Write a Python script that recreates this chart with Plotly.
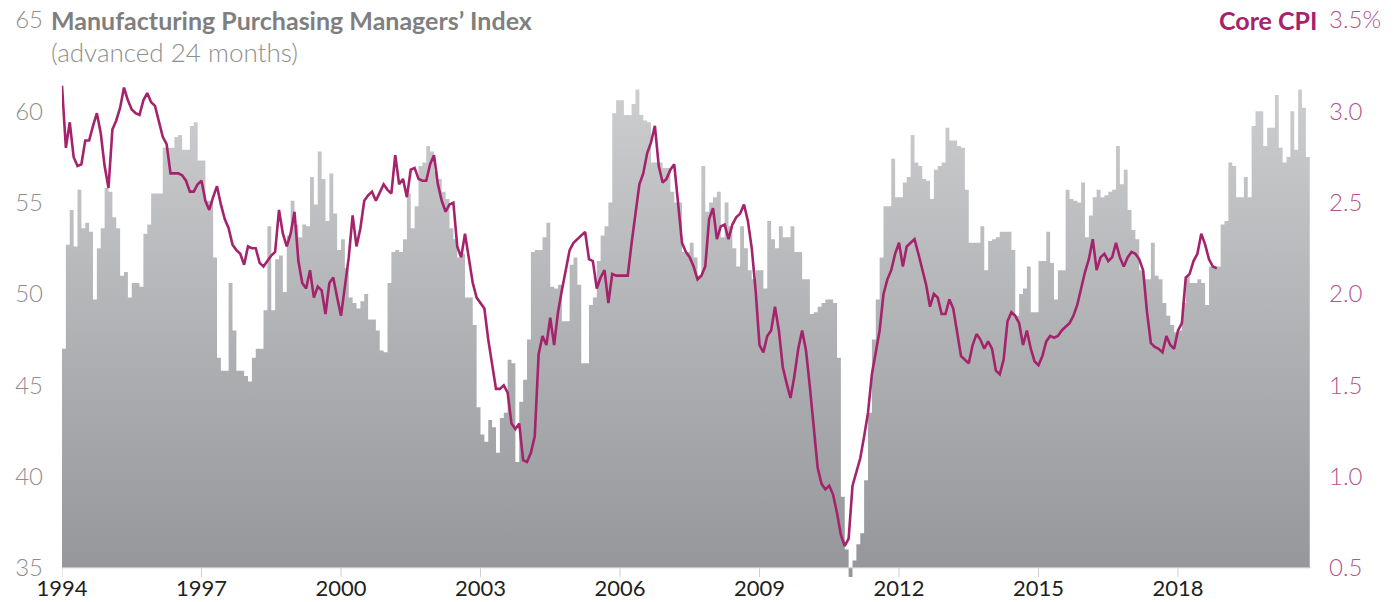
import numpy as np
import plotly.graph_objects as go

# ISM Manufacturing PMI, monthly, shown advanced 24 months (first bar = Jan 1994 on the axis)
pmi = [
    47.0, 52.7, 54.6, 52.6, 55.7, 53.6, 53.9, 53.4, 49.7, 52.5, 53.6, 55.8,
    55.6, 54.2, 53.6, 51.0, 51.2, 49.8, 50.6, 50.6, 50.4, 53.3, 53.8, 55.5,
    55.5, 55.5, 58.0, 58.0, 58.0, 58.6, 58.7, 57.9, 57.9, 59.2, 59.4, 57.3,
    57.3, 55.1, 55.1, 52.0, 46.5, 45.8, 45.8, 50.6, 48.0, 45.8, 45.8, 45.5,
    45.2, 46.5, 47.0, 47.0, 49.1, 53.7, 49.1, 51.9, 52.1, 50.1, 53.2, 55.1,
    53.8, 53.1, 53.8, 53.7, 56.4, 54.9, 57.8, 56.3, 54.0, 56.6, 54.4, 52.4,
    53.0, 51.4, 49.8, 49.5, 49.2, 49.6, 50.0, 48.6, 48.6, 48.0, 46.9, 46.8,
    50.6, 52.3, 52.4, 52.3, 53.0, 55.5, 53.6, 54.8, 57.0, 57.2, 58.1, 57.8,
    56.7, 56.3, 55.6, 55.2, 53.6, 53.0, 52.0, 52.2, 49.8, 49.8, 48.3, 43.8,
    42.3, 41.9, 43.1, 42.7, 41.3, 43.2, 43.5, 46.4, 46.2, 40.8, 44.1, 45.3,
    47.5, 52.3, 52.4, 52.4, 53.1, 53.9, 50.4, 50.3, 50.5, 48.5, 48.5, 51.6,
    52.0, 50.5, 46.2, 46.2, 49.4, 49.8, 51.8, 53.2, 53.7, 55.0, 59.9, 60.6,
    60.6, 59.8, 59.8, 60.4, 61.2, 59.8, 59.5, 59.4, 57.2, 57.2, 57.2, 56.9,
    56.9, 55.6, 55.0, 55.0, 52.3, 52.3, 52.8, 52.0, 51.0, 57.0, 54.5, 55.0,
    55.3, 55.6, 53.1, 55.0, 53.7, 52.5, 51.5, 53.7, 52.5, 51.3, 50.8, 51.3,
    51.3, 50.3, 54.0, 53.0, 52.5, 53.7, 53.1, 53.1, 53.7, 52.3, 52.3, 50.8,
    50.8, 48.9, 49.0, 49.3, 49.5, 49.7, 49.7, 49.5, 46.5, 38.9, 36.0, 33.0,
    35.4, 36.3, 36.9, 39.8, 43.5, 47.5, 49.7, 52.0, 54.8, 54.8, 57.4, 55.3,
    55.3, 56.1, 56.4, 58.7, 57.2, 57.0, 56.3, 56.2, 55.2, 56.8, 57.0, 57.2,
    59.1, 58.4, 58.4, 58.1, 58.0, 55.7, 52.8, 52.8, 52.8, 53.7, 51.3, 52.9,
    53.0, 53.1, 53.4, 53.4, 53.4, 52.4, 48.8, 50.0, 50.3, 51.5, 49.0, 49.0,
    51.8, 51.8, 53.4, 51.7, 49.7, 51.3, 51.3, 55.7, 55.2, 55.1, 55.0, 56.1,
    53.1, 54.3, 55.3, 55.7, 55.3, 55.4, 55.6, 55.7, 58.1, 56.0, 56.8, 54.6,
    53.5, 53.0, 51.3, 50.8, 50.8, 52.8, 51.0, 50.8, 49.5, 48.8, 48.3, 47.9,
    48.0, 49.5, 51.0, 50.6, 50.6, 50.8, 50.6, 49.4, 51.5, 51.5, 51.5, 53.8,
    54.0, 57.2, 57.0, 55.3, 55.3, 56.4, 55.3, 59.2, 60.0, 60.0, 58.1, 59.1,
    59.1, 60.9, 58.0, 57.2, 57.5, 60.0, 57.9, 61.2, 60.2, 57.5,
]

# Core CPI, year-over-year %, monthly from Jan 1994
core_cpi = [
    3.14, 2.80, 2.94, 2.75, 2.70, 2.71, 2.84, 2.84, 2.92, 2.99, 2.88, 2.70,
    2.58, 2.90, 2.95, 3.02, 3.13, 3.06, 3.01, 2.99, 2.98, 3.06, 3.10, 3.05,
    3.03, 2.95, 2.86, 2.82, 2.66, 2.66, 2.66, 2.65, 2.62, 2.56, 2.56, 2.60,
    2.62, 2.51, 2.46, 2.53, 2.59, 2.49, 2.41, 2.36, 2.27, 2.24, 2.22, 2.16,
    2.26, 2.25, 2.25, 2.17, 2.15, 2.18, 2.21, 2.23, 2.46, 2.33, 2.26, 2.33,
    2.45, 2.18, 2.06, 2.03, 2.13, 1.98, 2.04, 2.02, 1.89, 2.06, 2.09, 1.98,
    1.88, 2.04, 2.20, 2.43, 2.26, 2.36, 2.51, 2.54, 2.56, 2.51, 2.56, 2.60,
    2.57, 2.55, 2.76, 2.60, 2.63, 2.53, 2.68, 2.69, 2.63, 2.62, 2.62, 2.71,
    2.76, 2.60, 2.51, 2.45, 2.49, 2.50, 2.26, 2.20, 2.33, 2.20, 2.06, 1.98,
    1.95, 1.92, 1.75, 1.62, 1.48, 1.48, 1.50, 1.46, 1.29, 1.26, 1.29, 1.09,
    1.08, 1.13, 1.22, 1.67, 1.77, 1.72, 1.87, 1.72, 1.90, 2.02, 2.13, 2.24,
    2.28, 2.30, 2.32, 2.34, 2.19, 2.18, 2.03, 2.09, 2.13, 1.95, 2.11, 2.10,
    2.10, 2.10, 2.10, 2.28, 2.43, 2.60, 2.66, 2.77, 2.83, 2.92, 2.70, 2.61,
    2.63, 2.68, 2.71, 2.48, 2.28, 2.23, 2.20, 2.15, 2.08, 2.10, 2.15, 2.41,
    2.47, 2.30, 2.37, 2.38, 2.30, 2.38, 2.42, 2.44, 2.49, 2.40, 2.25, 2.02,
    1.72, 1.68, 1.77, 1.80, 1.93, 1.80, 1.60, 1.51, 1.43, 1.55, 1.70, 1.80,
    1.69, 1.49, 1.27, 1.05, 0.96, 0.93, 0.95, 0.90, 0.80, 0.68, 0.62, 0.66,
    0.95, 1.02, 1.10, 1.22, 1.35, 1.56, 1.68, 1.80, 2.00, 2.08, 2.13, 2.22,
    2.28, 2.15, 2.26, 2.28, 2.30, 2.22, 2.13, 2.05, 1.93, 2.00, 1.98, 1.89,
    1.89, 1.97, 1.92, 1.78, 1.66, 1.64, 1.62, 1.72, 1.78, 1.75, 1.70, 1.74,
    1.70, 1.58, 1.56, 1.64, 1.85, 1.90, 1.88, 1.84, 1.72, 1.80, 1.70, 1.63,
    1.61, 1.66, 1.74, 1.77, 1.76, 1.77, 1.80, 1.82, 1.84, 1.88, 1.94, 2.03,
    2.12, 2.19, 2.30, 2.13, 2.20, 2.22, 2.18, 2.20, 2.28, 2.20, 2.15, 2.20,
    2.23, 2.22, 2.19, 2.13, 1.90, 1.73, 1.71, 1.70, 1.68, 1.77, 1.72, 1.70,
    1.80, 1.84, 2.09, 2.11, 2.18, 2.22, 2.33, 2.27, 2.19, 2.15, 2.14,
]

start_year = 1994
x_tick_years = [1994, 1997, 2000, 2003, 2006, 2009, 2012, 2015, 2018]
pmi_ticks = [35, 40, 45, 50, 55, 60, 65]
cpi_ticks = [0.5, 1.0, 1.5, 2.0, 2.5, 3.0, 3.5]
cpi_tick_text = ["0.5", "1.0", "1.5", "2.0", "2.5", "3.0", "3.5%"]

PMI_BASE = 35
X_MAX = 2020.86
Y_MIN = 34.5

n = len(pmi)
x_bars = start_year + np.arange(n + 1) / 12.0
y_bars = pmi + [pmi[-1]]
x_cpi = start_year + np.arange(len(core_cpi)) / 12.0

fig = go.Figure()
fig.add_trace(go.Scatter(x=x_bars, y=[PMI_BASE] * (n + 1), mode="lines",
                         line=dict(width=0, color="rgba(0,0,0,0)"),
                         hoverinfo="skip", showlegend=False))
fig.add_trace(go.Scatter(x=x_bars, y=y_bars, mode="lines",
                         line=dict(width=0, shape="hv", color="rgba(0,0,0,0)"),
                         fill="tonexty",
                         fillgradient=dict(type="vertical",
                                           colorscale=[[0, "#96979a"], [1, "#d0d1d3"]],
                                           start=PMI_BASE, stop=63),
                         name="Manufacturing PMI", showlegend=False))
fig.add_trace(go.Scatter(x=x_cpi, y=core_cpi, mode="lines", yaxis="y2",
                         line=dict(color="#a5236c", width=2.6),
                         name="Core CPI", showlegend=False))

shapes = [dict(type="line", xref="x", yref="y", x0=start_year, x1=X_MAX, y0=PMI_BASE, y1=PMI_BASE,
               line=dict(color="#cfcfcf", width=1), layer="above")]
for yr in x_tick_years:
    shapes.append(dict(type="line", xref="x", yref="y", x0=yr, x1=yr, y0=PMI_BASE, y1=Y_MIN,
                       line=dict(color="#cfcfcf", width=1), layer="above"))

FONT = "Lato"
# the page body adds an 8px offset, so the figure is 8px smaller than the window
fig.update_layout(
    width=1390, height=594,
    margin=dict(l=54, r=87, t=12, b=25),
    paper_bgcolor="white", plot_bgcolor="white",
    showlegend=False,
    font=dict(family=FONT),
    shapes=shapes,
    xaxis=dict(range=[start_year, X_MAX], tickvals=x_tick_years,
               ticktext=[str(y) for y in x_tick_years], automargin=False,
               showgrid=False, zeroline=False, showline=False, ticks="",
               tickfont=dict(family=FONT, size=22, color="#231f20"),
               ticklabelstandoff=-4, ticklabeloverflow="allow"),
    yaxis=dict(range=[Y_MIN, 65], tickvals=pmi_ticks, showgrid=False, zeroline=False,
               showline=False, ticks="", ticklabelstandoff=18, automargin=False,
               ticklabeloverflow="allow",
               tickfont=dict(family=FONT, size=24, color="#8e8e8e", weight=300)),
    yaxis2=dict(range=[0.5 + (Y_MIN - PMI_BASE) / 10.0, 3.5], overlaying="y", side="right",
                tickvals=cpi_ticks, ticktext=cpi_tick_text, showgrid=False, zeroline=False,
                showline=False, ticks="", ticklabelstandoff=17, automargin=False,
                ticklabeloverflow="allow",
                tickfont=dict(family=FONT, size=24, color="#b5538a", weight=300)),
    annotations=[
        dict(text="<b>Manufacturing Purchasing Managers’ Index</b>", xref="paper", yref="paper",
             x=-0.0104, y=1.0, xanchor="left", yanchor="middle", showarrow=False,
             font=dict(family=FONT, size=25, color="#7f7f7f")),
        dict(text="(advanced 24 months)", xref="paper", yref="paper",
             x=-0.0104, y=0.9425, xanchor="left", yanchor="middle", showarrow=False,
             font=dict(family=FONT, size=26, color="#8e8e8e", weight=300)),
        dict(text="<b>Core CPI</b>", xref="paper", yref="paper",
             x=1.0068, y=1.0, xanchor="right", yanchor="middle", showarrow=False,
             font=dict(family=FONT, size=25, color="#a5236c")),
    ],
)

fig.write_html("out.html")
